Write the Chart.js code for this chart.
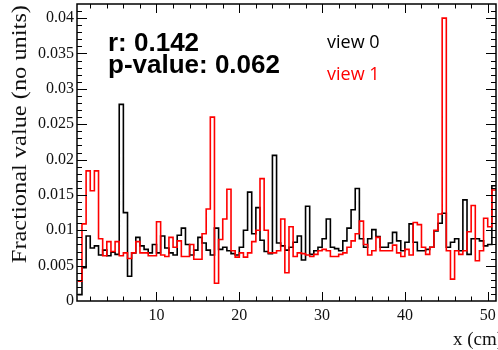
<!DOCTYPE html>
<html>
<head>
<meta charset="utf-8">
<script src="https://cdn.jsdelivr.net/npm/chart.js@4.4.1/dist/chart.umd.min.js"></script>
<style>
  html, body { margin: 0; padding: 0; background: #fff; }
  #wrap { width: 498px; height: 350px; }
</style>
</head>
<body>
<div id="wrap"><canvas id="histChart" width="498" height="350"></canvas></div>
<script>
// Histogram binning (cm)
var binStart = 0.5,
    binWidth = 0.5,
    xMin = 0.4,
    xMax = 51;

// Fractional value per bin, view 0 (black)
var view0 = [
    0.0009, 0.0047, 0.0092, 0.0075, 0.0078, 0.0065, 0.0072, 0.0064, 0.0069, 0.0066,
    0.0278, 0.0125, 0.0035, 0.0068, 0.0090, 0.0078, 0.0073, 0.0068, 0.0080, 0.0068,
    0.0092, 0.0075, 0.0068, 0.0065, 0.0093, 0.0103, 0.0080, 0.0065, 0.0072, 0.0090,
    0.0082, 0.0072, 0.0065, 0.0103, 0.0073, 0.0076, 0.0071, 0.0067, 0.0065, 0.0076,
    0.0100, 0.0154, 0.0095, 0.0132, 0.0086, 0.0070, 0.0067, 0.0206, 0.0082, 0.0078,
    0.0072, 0.0076, 0.0083, 0.0092, 0.0058, 0.0134, 0.0066, 0.0071, 0.0076, 0.0088,
    0.0116, 0.0076, 0.0074, 0.0071, 0.0085, 0.0103, 0.0129, 0.0159, 0.0088, 0.0076,
    0.0088, 0.0101, 0.0091, 0.0076, 0.0076, 0.0082, 0.0097, 0.0085, 0.0071, 0.0083,
    0.0109, 0.0083, 0.0071, 0.0071, 0.0073, 0.0076, 0.0099, 0.0110, 0.0124, 0.0076,
    0.0083, 0.0088, 0.0071, 0.0143, 0.0066, 0.0088, 0.0088, 0.0085, 0.0078, 0.0080,
    0.0163
];

// Fractional value per bin, view 1 (red)
var view1 = [
    0.0028, 0.0109, 0.0184, 0.0156, 0.0184, 0.0088, 0.0064, 0.0084, 0.0070, 0.0084,
    0.0064, 0.0068, 0.0060, 0.0068, 0.0084, 0.0068, 0.0068, 0.0064, 0.0064, 0.0112,
    0.0065, 0.0063, 0.0090, 0.0076, 0.0085, 0.0063, 0.0063, 0.0080, 0.0059, 0.0059,
    0.0095, 0.0130, 0.0260, 0.0025, 0.0087, 0.0116, 0.0158, 0.0071, 0.0062, 0.0068,
    0.0062, 0.0068, 0.0084, 0.0100, 0.0173, 0.0100, 0.0068, 0.0068, 0.0071, 0.0116,
    0.0040, 0.0105, 0.0063, 0.0068, 0.0067, 0.0065, 0.0063, 0.0066, 0.0071, 0.0073,
    0.0071, 0.0063, 0.0063, 0.0066, 0.0068, 0.0076, 0.0085, 0.0095, 0.0113, 0.0080,
    0.0065, 0.0071, 0.0090, 0.0071, 0.0071, 0.0071, 0.0079, 0.0068, 0.0063, 0.0073,
    0.0065, 0.0111, 0.0108, 0.0076, 0.0066, 0.0076, 0.0100, 0.0123, 0.0400, 0.0071,
    0.0031, 0.0071, 0.0066, 0.0071, 0.0098, 0.0135, 0.0057, 0.0071, 0.0117, 0.0105,
    0.0157
];

// Axis ticks
var xTickValues = [10, 20, 30, 40, 50],
    xTickLabels = ['10', '20', '30', '40', '50'],
    yTickValues = [0, 0.005, 0.01, 0.015, 0.02, 0.025, 0.03, 0.035, 0.04],
    yTickLabels = ['0', '0.005', '0.01', '0.015', '0.02', '0.025', '0.03', '0.035', '0.04'];

// Texts
var statR = 'r: 0.142',
    statP = 'p-value: 0.062',
    seriesNames = ['view 0', 'view 1'],
    xTitle = 'x (cm)',
    yTitle = 'Fractional value (no units)';

var serifFont = "'Liberation Serif', 'Times New Roman', serif";

// Turn bin contents into step points (left edge of each bin + closing edge)
function toSteps(values) {
    var pts = values.map(function (v, i) {
        return { x: binStart + i * binWidth, y: v };
    });
    pts.push({ x: binStart + values.length * binWidth, y: values[values.length - 1] });
    return pts;
}

// ROOT-like frame with inward ticks on all four sides
const rootFrame = {
    id: 'rootFrame',
    afterDatasetsDraw(chart) {
        const ctx = chart.ctx, a = chart.chartArea;
        const x = chart.scales.x, y = chart.scales.y;
        ctx.save();
        ctx.strokeStyle = '#000';
        ctx.lineWidth = 1;
        ctx.beginPath();
        for (let v = 2; v < xMax; v += 2) {
            const px = Math.round(x.getPixelForValue(v)) + 0.5;
            const len = v % 10 === 0 ? 9 : 4.5;
            ctx.moveTo(px, a.bottom); ctx.lineTo(px, a.bottom - len);
            ctx.moveTo(px, a.top); ctx.lineTo(px, a.top + len);
        }
        for (let i = 1; i <= 41; i++) {
            const py = Math.round(y.getPixelForValue(i * 0.001)) + 0.5;
            const len = i % 5 === 0 ? 10 : 5;
            ctx.moveTo(a.left, py); ctx.lineTo(a.left + len, py);
            ctx.moveTo(a.right, py); ctx.lineTo(a.right - len, py);
        }
        ctx.stroke();
        ctx.lineWidth = 1.5;
        ctx.strokeRect(a.left, a.top, a.right - a.left, a.bottom - a.top);
        ctx.restore();
    }
};

// Statistics box, series labels and axis titles
const annotations = {
    id: 'annotations',
    afterDraw(chart) {
        const ctx = chart.ctx;
        ctx.save();
        ctx.textAlign = 'left';
        ctx.textBaseline = 'alphabetic';
        ctx.fillStyle = '#000';
        ctx.font = "bold 26px 'Liberation Sans', Arial, sans-serif";
        ctx.fillText(statR, 108, 51);
        ctx.fillText(statP, 108, 73);
        ctx.font = "18px 'Open Sans', 'Noto Sans', sans-serif";
        ctx.fillStyle = '#000';
        ctx.fillText(seriesNames[0], 327, 48);
        ctx.fillStyle = '#ff0000';
        ctx.fillText(seriesNames[1], 327, 80);
        ctx.fillStyle = '#111';
        ctx.textAlign = 'right';
        ctx.font = '19px ' + serifFont;
        ctx.fillText(xTitle, 503, 345);

        // y title: rotated, top aligned, slightly stretched like the original
        ctx.save();
        ctx.translate(21, 5);
        ctx.rotate(-Math.PI / 2);
        ctx.scale(1.22, 1);
        ctx.textAlign = 'right';
        ctx.textBaseline = 'middle';
        ctx.font = '20px ' + serifFont;
        ctx.fillText(yTitle, 0, 0);
        ctx.restore();
        ctx.restore();
    }
};

var ctx = document.getElementById('histChart');

var chart = new Chart(ctx, {
    type: 'line',
    data: {
        datasets: [
            {
                label: seriesNames[0],
                data: toSteps(view0),
                borderColor: '#000000',
                borderWidth: 1.6,
                stepped: 'before',
                pointRadius: 0,
                fill: false,
                order: 1
            },
            {
                label: seriesNames[1],
                data: toSteps(view1),
                borderColor: '#ff0000',
                borderWidth: 1.6,
                stepped: 'before',
                pointRadius: 0,
                fill: false,
                order: 0
            }
        ]
    },
    options: {
        responsive: false,
        animation: false,
        devicePixelRatio: 1,
        layout: { padding: { left: 0, right: 2, top: 4, bottom: 0 } },
        plugins: {
            legend: { display: false },
            tooltip: { enabled: false }
        },
        scales: {
            x: {
                type: 'linear',
                min: xMin,
                max: xMax,
                border: { display: false },
                grid: { display: false, drawTicks: false },
                afterBuildTicks: function (scale) {
                    scale.ticks = xTickValues.map(function (v) { return { value: v }; });
                },
                afterFit: function (scale) {
                    scale.height = 49;
                    scale.paddingLeft = 0;
                    scale.paddingRight = 0;
                },
                ticks: {
                    autoSkip: false,
                    maxRotation: 0,
                    padding: 5,
                    color: '#111',
                    font: { family: serifFont, size: 16 },
                    callback: function (value, index) { return xTickLabels[index]; }
                }
            },
            y: {
                type: 'linear',
                min: 0,
                max: 0.042,
                border: { display: false },
                grid: { display: false, drawTicks: false },
                afterBuildTicks: function (scale) {
                    scale.ticks = yTickValues.map(function (v) { return { value: v }; });
                },
                afterFit: function (scale) {
                    scale.width = 77;
                    scale.paddingTop = 0;
                    scale.paddingBottom = 0;
                },
                ticks: {
                    autoSkip: false,
                    padding: 3,
                    color: '#111',
                    font: { family: serifFont, size: 16 },
                    callback: function (value, index) { return yTickLabels[index]; }
                }
            }
        }
    },
    plugins: [rootFrame, annotations]
});
</script>
</body>
</html>
